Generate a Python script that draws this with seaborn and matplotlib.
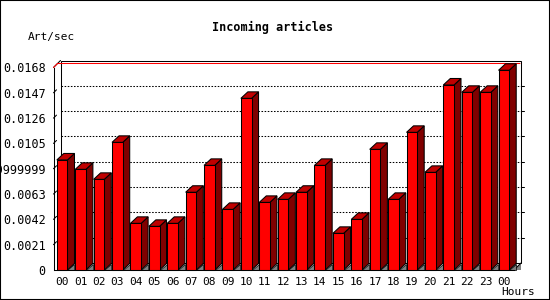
import matplotlib
matplotlib.use("Agg")
import matplotlib.pyplot as plt
from matplotlib.patches import Polygon, Rectangle
from matplotlib.lines import Line2D
import seaborn as sns
import pandas as pd
import numpy as np

# ---- data ----
hours = ["00", "01", "02", "03", "04", "05", "06", "07", "08", "09", "10", "11",
         "12", "13", "14", "15", "16", "17", "18", "19", "20", "21", "22", "23", "00"]
rates = [0.00913, 0.00835, 0.00752, 0.01059, 0.00387, 0.00362, 0.00387, 0.00645,
         0.00868, 0.00503, 0.01424, 0.00561, 0.00586, 0.00645, 0.00868, 0.00304,
         0.00420, 0.01001, 0.00586, 0.01142, 0.00810, 0.01535, 0.01474, 0.01474,
         0.01657]
ytick_values = [0, 0.0021, 0.0042, 0.0063, 0.0084, 0.0105, 0.0126, 0.0147, 0.0168]
ytick_labels = ["0", "0.0021", "0.0042", "0.0063", "0.008399999999999999",
                "0.0105", "0.0126", "0.0147", "0.0168"]
title = "Incoming articles"
ylabel = "Art/sec"
xlabel = "Hours"

sns.set_style("white")
plt.rcParams['font.family'] = ['DejaVu Sans Mono', 'DejaVu Sans']
plt.rcParams['text.color'] = 'black'
plt.rcParams['xtick.color'] = 'black'
plt.rcParams['ytick.color'] = 'black'
plt.rcParams['axes.labelcolor'] = 'black'

W, H = 550, 300
fig = plt.figure(figsize=(5.5, 3.0), dpi=100)
fig.patch.set_facecolor("white")

# axes in pixel units (front plane)
ax_l, ax_r, ax_b, ax_t = 53.5, 514.0, 30.0, 232.5
ax = fig.add_axes([ax_l / W, ax_b / H, (ax_r - ax_l) / W, (ax_t - ax_b) / H])
ax.patch.set_visible(False)

df = pd.DataFrame({"slot": [str(i) for i in range(len(rates))], "rate": rates})
sns.barplot(data=df, x="slot", y="rate", order=df["slot"].tolist(), color="#ff0000",
            width=0.58, edgecolor="black", linewidth=0.75, saturation=1, ax=ax,
            zorder=3)

xl, xr = -0.47, 24.55
ymax = ytick_values[-1]
ax.set_xlim(xl, xr)
ax.set_ylim(0, ymax)

ppx = (ax_r - ax_l) / (xr - xl)       # pixels per x unit
ppy = (ax_t - ax_b) / ymax            # pixels per y unit
wdx, wdy = 7.0 / ppx, 7.0 / ppy       # wall depth
bdx, bdy = 7.0 / ppx, 6.5 / ppy       # bar depth

# back wall
ax.add_patch(Rectangle((xl + wdx, wdy), (xr - xl), ymax, facecolor="white",
                       edgecolor="black", linewidth=0.75, zorder=0.5, clip_on=False))
# gridlines on back wall
for v in ytick_values[1:-1]:
    ax.add_line(Line2D([xl + wdx, xr + wdx], [v + wdy, v + wdy], color="black",
                       linewidth=0.75, linestyle=(0, (1.5, 1.5)), zorder=0.6, clip_on=False))
    ax.add_line(Line2D([xl, xl + 3 / ppx], [v, v + 3 / ppy], color="black",
                       linewidth=0.75, zorder=0.6, clip_on=False))
    ax.add_line(Line2D([xr + wdx, xr + wdx + 3 / ppx], [v + wdy, v + wdy], color="black",
                       linewidth=0.75, zorder=0.6, clip_on=False))
ax.add_line(Line2D([xl, xl + wdx], [ymax, ymax + wdy], color="black", linewidth=0.75,
                   zorder=0.7, clip_on=False))
ax.add_line(Line2D([xr, xr + wdx], [0, wdy], color="black", linewidth=0.75,
                   zorder=0.7, clip_on=False))
# red max line
ax.add_line(Line2D([xl, xl + 4 / ppx, xr + wdx - 1 / ppx],
                   [ymax, ymax + 4 / ppy, ymax + 4 / ppy], color="#ff0000",
                   linewidth=0.75, zorder=0.7, clip_on=False))
ax.add_patch(Polygon([(xr, 0), (xr + wdx, wdy), (xr + wdx, 0)], closed=True,
                     facecolor="#808080", edgecolor="none", zorder=0.55, clip_on=False))

# 3D faces for bars
for p in list(ax.patches):
    if not isinstance(p, Rectangle) or p.get_facecolor()[0] < 0.9 or p.get_height() <= 0:
        continue
    if abs(p.get_width() - 0.58) > 0.01:
        continue
    x0, w, h = p.get_x(), p.get_width(), p.get_height()
    x1 = x0 + w
    ax.add_patch(Polygon([(x1, 0), (x1 + bdx, 0), (x1 + bdx, bdy)], closed=True,
                         facecolor="#808080", edgecolor="black", linewidth=0.5,
                         zorder=2.5, clip_on=False))
    ax.add_patch(Polygon([(x1, 0), (x1 + bdx, bdy), (x1 + bdx, h + bdy), (x1, h)],
                         closed=True, facecolor="#800000", edgecolor="black",
                         linewidth=0.75, zorder=2.6, clip_on=False))
    ax.add_patch(Polygon([(x0, h), (x1, h), (x1 + bdx, h + bdy), (x0 + bdx, h + bdy)],
                         closed=True, facecolor="#c00000", edgecolor="black",
                         linewidth=0.75, zorder=2.6, clip_on=False))
    p.set_clip_on(False)

for s in ["top", "right"]:
    ax.spines[s].set_visible(False)
for s in ["left", "bottom"]:
    ax.spines[s].set_color("black")
    ax.spines[s].set_linewidth(0.75)
    ax.spines[s].set_zorder(4)

ax.set_yticks(ytick_values)
ax.set_yticklabels(ytick_labels, fontsize=8.5, color="black")
ax.tick_params(axis="y", direction="out", length=3, width=0.75, pad=2.5, color="black")

ax.set_xticks(range(len(hours)))
ax.set_xticklabels(hours, fontsize=8, color="black")
ax.set_xticks([xl] + [k + 0.5 for k in range(len(hours) - 1)], minor=True)
ax.tick_params(axis="x", which="major", length=0, pad=5)
ax.tick_params(axis="x", which="minor", direction="out", length=2.5, width=0.75,
               color="black")
ax.set_xlabel("")
ax.set_ylabel("")

fig.text(273 / W, 1 - 27 / H, title, ha="center", va="center", fontsize=8.5,
         fontweight="bold", color="black")
fig.text(28 / W, 1 - 37 / H, ylabel, ha="left", va="center", fontsize=8, color="black")
fig.text(535 / W, 1 - 292 / H, xlabel, ha="right", va="center", fontsize=8, color="black")

fig.patches.append(Rectangle((0, 0), 1, 1, transform=fig.transFigure, fill=False,
                             edgecolor="black", linewidth=1.5, zorder=10))

fig.savefig("out.png", dpi=100, facecolor="white")
